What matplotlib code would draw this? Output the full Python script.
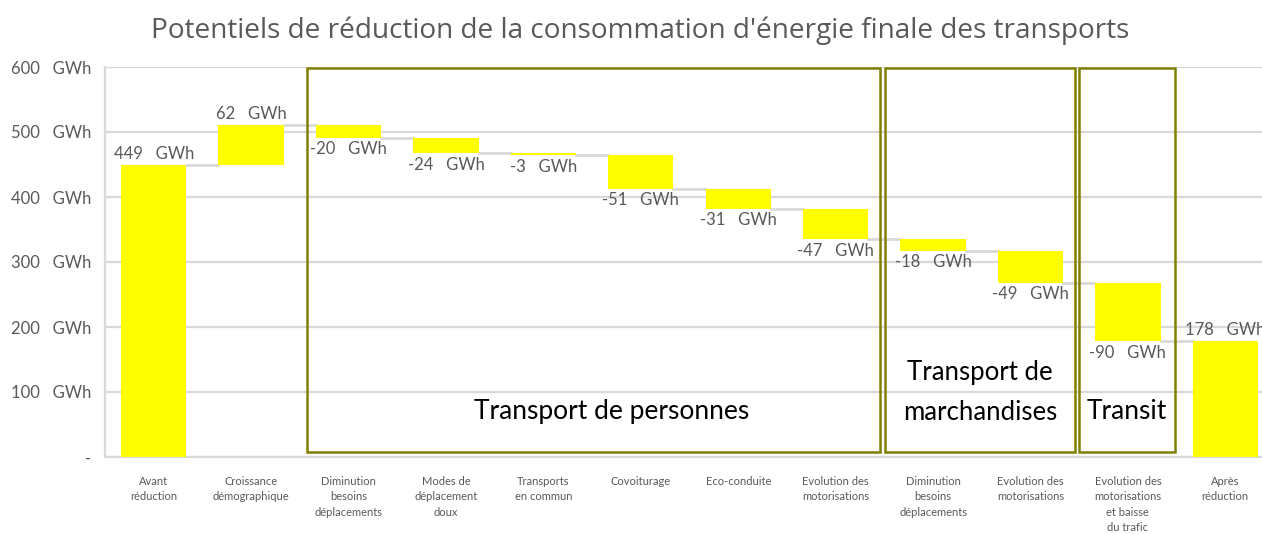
import matplotlib
matplotlib.use("Agg")
import matplotlib.pyplot as plt
from matplotlib.patches import Rectangle

categories = ["Avant\nréduction", "Croissance\ndémographique", "Diminution\nbesoins\ndéplacements",
              "Modes de\ndéplacement\ndoux", "Transports\nen commun", "Covoiturage", "Eco-conduite",
              "Evolution des\nmotorisations", "Diminution\nbesoins\ndéplacements", "Evolution des\nmotorisations",
              "Evolution des\nmotorisations\net baisse\ndu trafic", "Après\nréduction"]
values = [449, 62, -20, -24, -3, -51, -31, -47, -18, -49, -90, 178]
is_total = [True, False, False, False, False, False, False, False, False, False, False, True]
yticks = [0, 100, 200, 300, 400, 500, 600]
ytick_labels = ["-", "100   GWh", "200   GWh", "300   GWh", "400   GWh", "500   GWh", "600   GWh"]
groups = [("Transport de personnes", 1.57, 7.46), ("Transport de\nmarchandises", 7.505, 9.455), ("Transit", 9.497, 10.48)]

plt.rcParams['font.family'] = ['Lato', 'DejaVu Sans']
W, H = 1262, 534
fig = plt.figure(figsize=(W / 100, H / 100), dpi=100)
x0, x1 = 105, 1274
y0, y1 = 457, 67
ax = fig.add_axes([x0 / W, 1 - y0 / H, (x1 - x0) / W, (y0 - y1) / H])
ax.set_xlim(-0.5, 11.5)
ax.set_ylim(0, 600)

grey = "#d9d9d9"
txt = "#595959"
bw = 0.67
running = 0
tops = []
for i, v in enumerate(values):
    if is_total[i]:
        bottom, height = 0, v
        running = v
        end = v
    else:
        start = running
        end = running + v
        bottom, height = min(start, end), abs(v)
        running = end
    ax.bar(i, height, bottom=bottom, width=bw, color="#ffff00", zorder=3)
    lab = f"{v}   GWh"
    if v >= 0:
        ax.text(i, bottom + height + 5, lab, ha="center", va="bottom", fontsize=12, color=txt, zorder=5, clip_on=False)
    else:
        ax.text(i, bottom - 5, lab, ha="center", va="top", fontsize=12, color=txt, zorder=5)
    tops.append(end)

for i in range(len(values) - 1):
    ax.plot([i + bw / 2, i + 1 - bw / 2], [tops[i], tops[i]], color=grey, lw=2, zorder=2)

ax.set_yticks(yticks)
ax.set_yticklabels(ytick_labels, fontsize=12, color=txt)
ax.set_xticks(range(len(categories)))
ax.set_xticklabels(categories, fontsize=8, color=txt, linespacing=1.45)
ax.tick_params(length=0)
ax.tick_params(axis="x", pad=14)
ax.tick_params(axis="y", pad=10)
ax.grid(axis="y", color=grey, lw=1.6, zorder=0)
for s in ["top", "right"]:
    ax.spines[s].set_visible(False)
ax.spines["left"].set_color(grey)
ax.spines["left"].set_linewidth(1.6)
ax.spines["bottom"].set_color(grey)
ax.spines["bottom"].set_linewidth(1.6)

olive = "#808000"
for name, a, b in groups:
    ax.add_patch(Rectangle((a, 7.5), b - a, 591, fill=False, edgecolor=olive, lw=1.8, zorder=4))
    lines = name.split("\n")
    if len(lines) == 1:
        cx = 4.70 if name.startswith("Transport de p") else (a + b) / 2
        ax.text(cx, 70, name, ha="center", va="center", fontsize=19, color="black", zorder=5)
    else:
        ax.text((a + b) / 2, 130, lines[0], ha="center", va="center", fontsize=18.5, color="black", zorder=5)
        ax.text((a + b) / 2, 68, lines[1], ha="center", va="center", fontsize=18.5, color="black", zorder=5)

fig.text(640 / W, 1 - 31 / H, "Potentiels de réduction de la consommation d'énergie finale des transports",
         ha="center", va="center", fontsize=20.2, color=txt, family=['Open Sans', 'DejaVu Sans'])

fig.savefig("out.png", dpi=100)
